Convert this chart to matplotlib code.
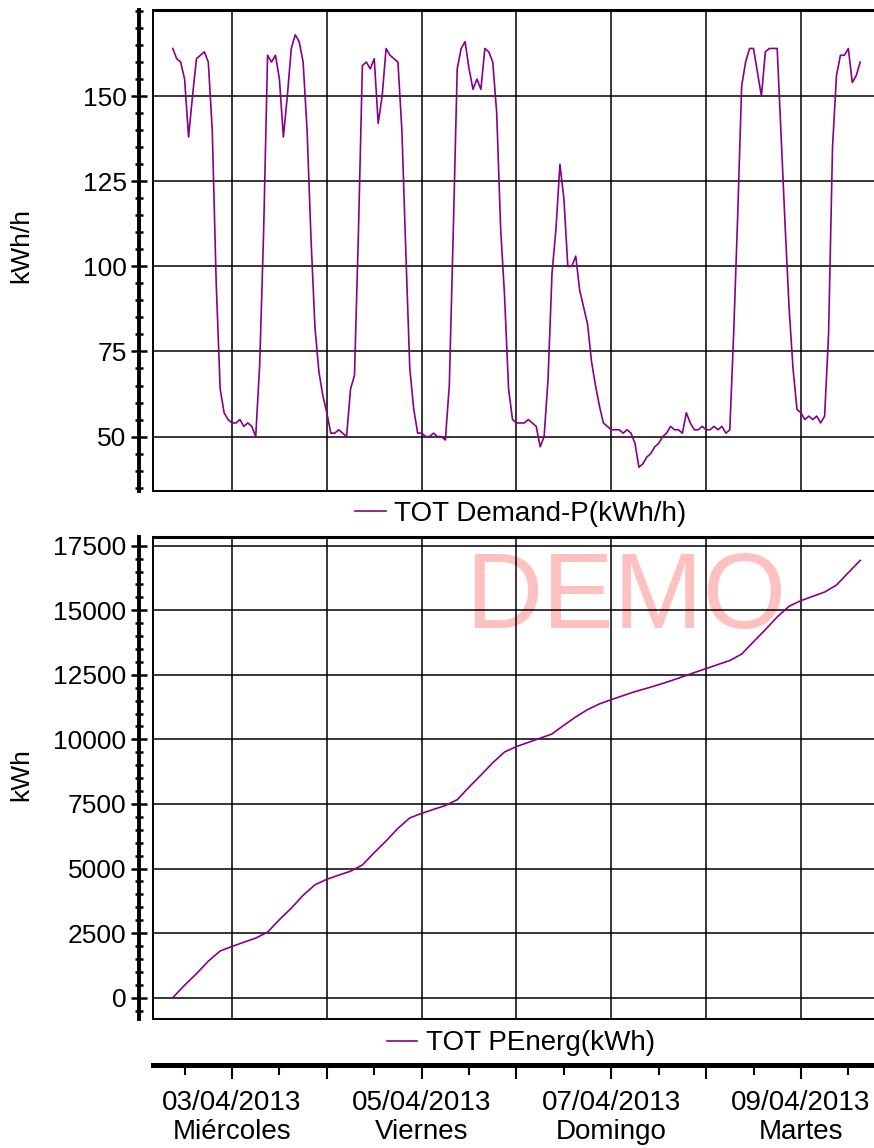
import matplotlib
matplotlib.use('Agg')
import matplotlib.pyplot as plt
import matplotlib.dates as mdates
from matplotlib.ticker import MultipleLocator, FixedLocator
from matplotlib import font_manager
import pandas as pd

# hourly demand (kWh/h), starting 02/04/2013 09:00
demand = [
    164, 161, 160, 155, 138, 150, 161, 162, 163, 160,
    140, 95, 64, 57, 55, 54, 54, 55, 53, 54,
    53, 50, 71, 110, 162, 160, 162, 155, 138, 150,
    164, 168, 166, 160, 140, 108, 82, 69, 62, 57,
    51, 51, 52, 51, 50, 64, 68, 110, 159, 160,
    158, 161, 142, 150, 164, 162, 161, 160, 140, 104,
    70, 58, 51, 51, 50, 50, 51, 50, 50, 49,
    65, 110, 158, 164, 166, 158, 152, 155, 152, 164,
    163, 160, 145, 111, 91, 64, 55, 54, 54, 54,
    55, 54, 53, 47, 50, 67, 98, 111, 130, 120,
    100, 100, 103, 93, 88, 83, 72, 65, 59, 54,
    53, 52, 52, 52, 51, 52, 51, 48, 41, 42,
    44, 45, 47, 48, 50, 51, 53, 52, 52, 51,
    57, 54, 52, 52, 53, 52, 52, 53, 52, 53,
    51, 52, 81, 115, 153, 160, 164, 164, 157, 150,
    163, 164, 164, 164, 138, 112, 88, 70, 58, 57,
    55, 56, 55, 56, 54, 56, 80, 135, 156, 162,
    162, 164, 154, 156, 160,
]

# cumulative energy (kWh) every 3 hours from the same start
energy = [
    0, 485, 928, 1414, 1809, 1985, 2148, 2308, 2539, 3023,
    3466, 3964, 4372, 4585, 4744, 4897, 5139, 5616, 6069, 6556,
    6960, 7139, 7290, 7441, 7665, 8153, 8618, 9097, 9513, 9723,
    9885, 10047, 10211, 10550, 10870, 11154, 11374, 11540, 11696, 11850,
    11981, 12117, 12266, 12423, 12585, 12742, 12899, 13055, 13303, 13780,
    14251, 14742, 15156, 15372, 15540, 15705, 15976, 16456, 16930,
]

demand_ticks = [50, 75, 100, 125, 150]
energy_ticks = [0, 2500, 5000, 7500, 10000, 12500, 15000, 17500]
day_ticks = pd.date_range('2013-04-03', '2013-04-09', freq='D')
day_labels = ['03/04/2013\nMiércoles', '', '05/04/2013\nViernes', '',
              '07/04/2013\nDomingo', '', '09/04/2013\nMartes']

start = pd.Timestamp('2013-04-02 09:00')
demand_times = pd.date_range(start, periods=len(demand), freq='h')
energy_times = pd.date_range(start, periods=len(energy), freq='3h')
xmin = pd.Timestamp('2013-04-02 04:00')
xmax = pd.Timestamp('2013-04-09 18:30')

LINE = '#880088'
plt.rcParams['font.family'] = ['Liberation Sans', 'DejaVu Sans']

try:
    font_manager.findfont(font_manager.FontProperties(family='Liberation Sans Narrow'),
                          fallback_to_default=False)
    date_font, date_size = 'Liberation Sans Narrow', 24
except ValueError:
    date_font, date_size = 'Liberation Sans', 20

W, H = 874, 1148
fig = plt.figure(figsize=(W / 100, H / 100), dpi=100)
left = 153 / W
ax1 = fig.add_axes([left, 1 - 490.7 / H, 1 - left, 480.7 / H])
ax2 = fig.add_axes([left, 1 - 1019 / H, 1 - left, 481.7 / H])
ax3 = fig.add_axes([left, 1 - 1065 / H, 1 - left, 0.0001])


def style_panel(ax, ylim, ticks, minor, label, label_y):
    ax.set_xlim(xmin, xmax)
    ax.set_ylim(*ylim)
    ax.set_xticks(day_ticks)
    ax.tick_params(axis='x', length=0, labelbottom=False)
    ax.yaxis.set_major_locator(FixedLocator(ticks))
    ax.yaxis.set_minor_locator(MultipleLocator(minor))
    ax.grid(True, which='major', color='black', lw=1.1)
    ax.set_axisbelow(True)
    ax.spines['left'].set_position(('outward', 10))
    ax.spines['left'].set_linewidth(2.8)
    ax.spines['right'].set_visible(False)
    ax.spines['bottom'].set_linewidth(1.4)
    ax.spines['top'].set_linewidth(2.2)
    # inner frame line on the left side of the box
    ax.plot([0, 0], [0, 1], transform=ax.transAxes, color='black', lw=1.4, clip_on=False)
    ax.tick_params(axis='y', which='major', direction='inout', length=12, width=1.8,
                   labelsize=19, pad=3)
    ax.tick_params(axis='y', which='minor', direction='inout', length=6, width=1.8)
    ax.set_ylabel(label, fontsize=19)
    ax.yaxis.set_label_coords(-0.166, label_y)


# top: demand
l1, = ax1.plot(demand_times, demand, color=LINE, lw=1.2)
style_panel(ax1, (34.1, 175.3), demand_ticks, 5, 'kWh/h', 0.511)
ax1.legend([l1], ['TOT Demand-P(kWh/h)'], loc='upper center', bbox_to_anchor=(0.51, -0.016),
           frameon=False, fontsize=20, handlelength=1.1, handletextpad=0.3,
           borderaxespad=0, borderpad=0.1)

# bottom: cumulative energy
l2, = ax2.plot(energy_times, energy, color=LINE, lw=1.2)
style_panel(ax2, (-825, 17825), energy_ticks, 500, 'kWh', 0.5065)
ax2.legend([l2], ['TOT PEnerg(kWh)'], loc='upper center', bbox_to_anchor=(0.51, -0.018),
           frameon=False, fontsize=20, handlelength=1.1, handletextpad=0.3,
           borderaxespad=0, borderpad=0.1)
ax2.text(465 / W, 1 - 628 / H, 'DEMO', transform=fig.transFigure, fontsize=77,
         color='#ffc0c0', ha='left', va='baseline', zorder=0.2)

# shared date axis
ax3.set_xlim(xmin, xmax)
ax3.set_facecolor('none')
for s in ['top', 'left', 'right']:
    ax3.spines[s].set_visible(False)
ax3.spines['bottom'].set_linewidth(3.6)
ax3.set_yticks([])
ax3.set_xticks(day_ticks)
ax3.set_xticklabels(day_labels)
ax3.xaxis.set_minor_locator(mdates.HourLocator(byhour=12))
ax3.tick_params(axis='x', which='major', length=10, width=1.5, pad=8, labelsize=date_size)
ax3.tick_params(axis='x', which='minor', length=7, width=1.5)
for lab in ax3.get_xticklabels():
    lab.set_fontfamily(date_font)
    lab.set_linespacing(1.15)

fig.savefig('out.png', dpi=100)
